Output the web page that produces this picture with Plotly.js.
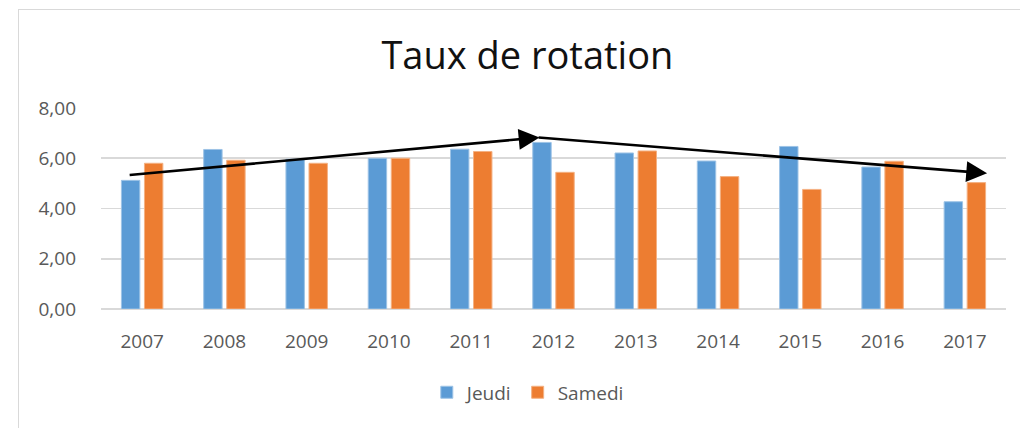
<!DOCTYPE html>
<html>
<head>
<meta charset="utf-8">
<script src="https://cdn.plot.ly/plotly-3.0.1.min.js"></script>
<style>
  html, body { margin: 0; padding: 0; background: #fff; overflow: hidden; }
  #frame { position: absolute; left: 18px; top: 9px; width: 1020px; height: 440px; border: 1px solid #d9d9d9; box-sizing: border-box; pointer-events: none; }
  #chart { position: absolute; left: 0; top: 0; width: 1020px; height: 428px; }
</style>
</head>
<body>
<div id="chart"></div>
<div id="frame"></div>
<script>
// ---- data ----
const years = ["2007","2008","2009","2010","2011","2012","2013","2014","2015","2016","2017"];
const jeudi  = [5.12, 6.35, 5.96, 6.00, 6.36, 6.63, 6.21, 5.89, 6.47, 5.65, 4.27];
const samedi = [5.80, 5.92, 5.80, 6.00, 6.27, 5.44, 6.29, 5.27, 4.76, 5.88, 5.03];
const yTicks = [0, 2, 4, 6, 8];
// trend arrows: [startIndex, startValue, endIndex, endValue]
const trendUp   = [-0.17, 5.33, 4.83, 6.83];
const trendDown = [4.80, 6.83, 10.27, 5.40];

const fontFam = "'Open Sans', 'Liberation Sans', sans-serif";

const traces = [
  { type: 'bar', name: 'Jeudi', x: years, y: jeudi,
    marker: { color: '#5B9BD5', line: { color: '#9DC3E6', width: 1 } } },
  { type: 'bar', name: 'Samedi', x: years, y: samedi,
    marker: { color: '#ED7D31', line: { color: '#F4B183', width: 1 } } }
];

function arrow(t) {
  return {
    x: t[2], y: t[3], ax: t[0], ay: t[1],
    xref: 'x', yref: 'y', axref: 'x', ayref: 'y',
    showarrow: true, arrowhead: 2, arrowsize: 1.6, arrowwidth: 2.6,
    arrowcolor: '#000', text: '', standoff: 0, startstandoff: 0
  };
}

const layout = {
  width: 1020, height: 428,
  margin: { l: 101, r: 14, t: 108, b: 119 },
  paper_bgcolor: 'rgba(0,0,0,0)', plot_bgcolor: '#fff',
  separators: ', ',
  barmode: 'group', bargap: 0.44, bargroupgap: 0.2,
  font: { family: fontFam, color: '#595959', size: 19 },
  title: { text: 'Taux de rotation', font: { family: fontFam, size: 38, color: '#111' },
           x: 0.517, xanchor: 'center', y: 0.87, yanchor: 'middle' },
  xaxis: { type: 'category', showgrid: false, zeroline: false, showline: false,
           ticks: '', tickfont: { size: 19, color: '#595959' }, ticklabelstandoff: 19 },
  yaxis: { range: [0, 8], tickvals: yTicks, tickformat: '.2f', showgrid: true,
           gridcolor: '#d9d9d9', gridwidth: 1.8, zeroline: true, zerolinecolor: '#d9d9d9',
           zerolinewidth: 1.8, showline: false, ticks: '', ticklabelstandoff: 24,
           tickfont: { size: 19, color: '#595959' } },
  showlegend: true,
  legend: { orientation: 'h', x: 0.36, xanchor: 'left', y: -0.415, yanchor: 'middle',
            font: { size: 19, color: '#595959' }, itemwidth: 30, traceorder: 'normal' },
  annotations: [arrow(trendUp), arrow(trendDown)]
};

Plotly.newPlot('chart', traces, layout, { displayModeBar: false, staticPlot: true });
</script>
</body>
</html>
